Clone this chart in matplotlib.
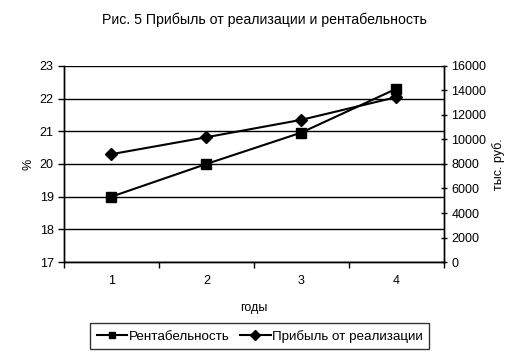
import matplotlib.pyplot as plt
from matplotlib.ticker import FixedLocator

plt.rcParams["font.family"] = ["Liberation Sans", "DejaVu Sans"]

years = [1, 2, 3, 4]
profitability = [19.0, 20.0, 20.96, 22.3]
profit = [8800, 10180, 11600, 13450]

fig = plt.figure(figsize=(5.29, 3.58), dpi=100)
ax = fig.add_axes([0.121, 0.268, 0.718, 0.548])
ax2 = ax.twinx()

# left axis, percent
ax.set_xlim(0.5, 4.5)
ax.set_ylim(17, 23)
ax.set_yticks(range(17, 24))
ax.yaxis.grid(True, color="black", linewidth=1)
ax.set_axisbelow(True)
ax.set_xticks(years)
ax.tick_params(axis="x", which="major", length=0, pad=9, labelsize=9)
ax.xaxis.set_minor_locator(FixedLocator([0.5, 1.5, 2.5, 3.5, 4.5]))
ax.tick_params(axis="x", which="minor", length=4, direction="out", width=1)
ax.tick_params(axis="y", length=4, direction="out", width=1, labelsize=9)
ax.set_ylabel("%", fontsize=9)
ax.set_xlabel("годы", fontsize=9, labelpad=11)

# right axis, thousand roubles
ax2.set_ylim(0, 16000)
ax2.set_yticks(range(0, 16001, 2000))
ax2.tick_params(axis="y", length=4, direction="inout", width=1, labelsize=9)
ax2.set_ylabel("тыс. руб.", fontsize=9, labelpad=4)

for a in (ax, ax2):
    a.spines["top"].set_visible(False)
    a.spines["left"].set_linewidth(1)
    a.spines["right"].set_linewidth(1)
    a.spines["bottom"].set_linewidth(1)

l1, = ax.plot(years, profitability, color="black", marker="s", markersize=7,
              linewidth=1.5, label="Рентабельность")
l2, = ax2.plot(years, profit, color="black", marker="D", markersize=6,
               linewidth=1.5, label="Прибыль от реализации")

fig.suptitle("Рис. 5 Прибыль от реализации и рентабельность", fontsize=10.2, y=0.965)

leg = fig.legend(handles=[l1, l2], loc="center", bbox_to_anchor=(0.491, 0.061),
                 ncol=2, fontsize=9.6, frameon=True, fancybox=False, edgecolor="black",
                 handlelength=2.3, handletextpad=0.1, columnspacing=0.8,
                 borderpad=0.5, borderaxespad=0)
leg.get_frame().set_linewidth(1)
for h in leg.legend_handles:
    h.set_markersize(5)

fig.savefig("out.png", dpi=100)
